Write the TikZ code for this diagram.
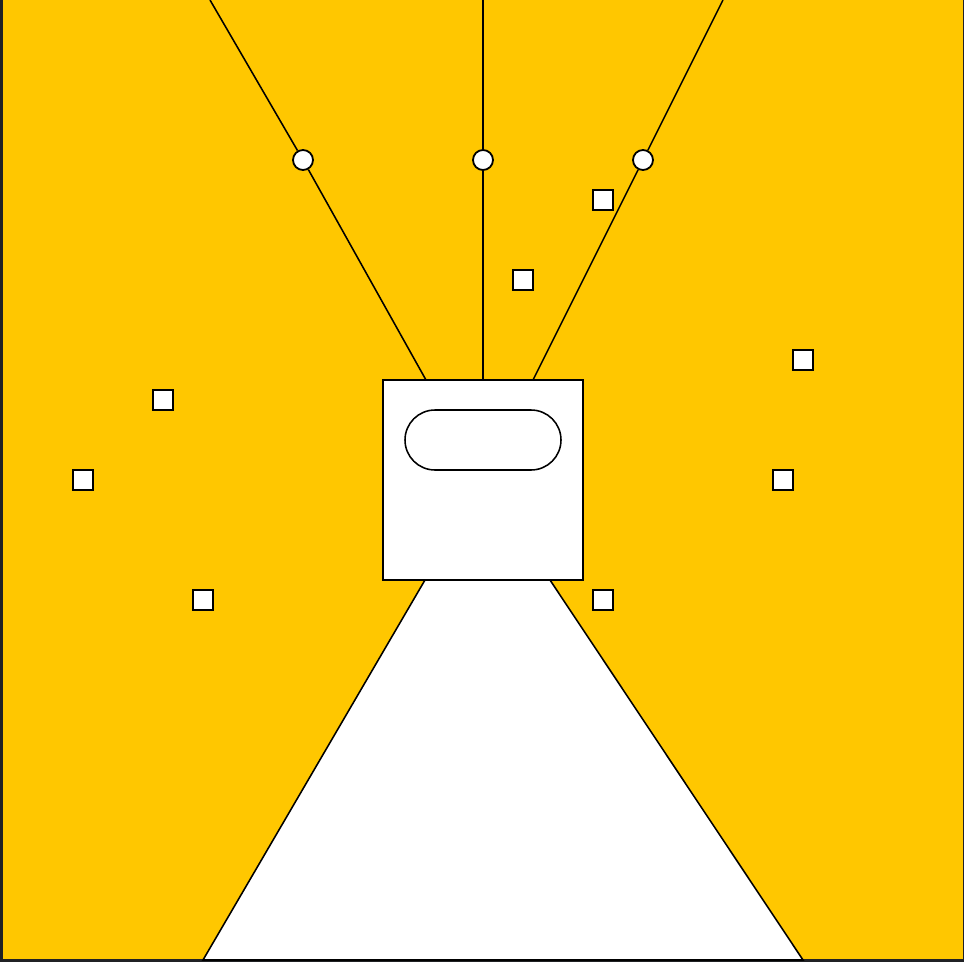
\documentclass[tikz,border=0pt]{standalone}
\usepackage{tikz}
\usetikzlibrary{shapes.misc,positioning,calc}
\definecolor{sunyellow}{HTML}{FFC700}
\definecolor{frameback}{HTML}{202124}

\begin{document}
\begin{tikzpicture}[
    x=0.25mm, y=-0.25mm,
    line width=1.1pt,
    tile/.style={rectangle, draw, fill=white, line width=1.3pt, minimum size=5mm, inner sep=0pt},
    knob/.style={circle, draw, fill=white, line width=1.3pt, minimum size=5mm, inner sep=0pt},
    panel/.style={rectangle, draw, fill=white, line width=1.4pt, minimum size=50mm, inner sep=0pt},
    slot/.style={rounded rectangle, draw, fill=white, minimum width=39mm, minimum height=15mm, inner sep=0pt}
]
% frame and background
\fill[frameback] (0,0) rectangle (964,962);
\fill[sunyellow] (3,0) rectangle (963,959);
\useasboundingbox (0,0) rectangle (964,962);

% light beam below the panel
\draw[fill=white] (425,580) -- (550,580) -- (803,960) -- (203,960) -- cycle;

% wires
\coordinate (top1) at (210,0);
\coordinate (top2) at (483,0);
\coordinate (top3) at (723,0);
\node[knob] (k1) at (303,160) {};
\node[knob] (k2) at (483,160) {};
\node[knob] (k3) at (643,160) {};
\coordinate (in1) at (426,380);
\coordinate (in2) at (483,380);
\coordinate (in3) at (533,380);
\draw (top1) -- (k1) -- (in1);
\draw (top2) -- (k2) -- (in2);
\draw (top3) -- (k3) -- (in3);

% panel with slot
\node[panel] (panel) at (483,480) {};
\node[slot] (slot) at (483,440) {};

% scattered tiles
\node[tile] (t1) at (603,200) {};
\node[tile] (t2) at (523,280) {};
\node[tile] (t3) at (803,360) {};
\node[tile] (t4) at (163,400) {};
\node[tile] (t5) at (83,480) {};
\node[tile] (t6) at (783,480) {};
\node[tile] (t7) at (203,600) {};
\node[tile] (t8) at (603,600) {};
\end{tikzpicture}
\end{document}
